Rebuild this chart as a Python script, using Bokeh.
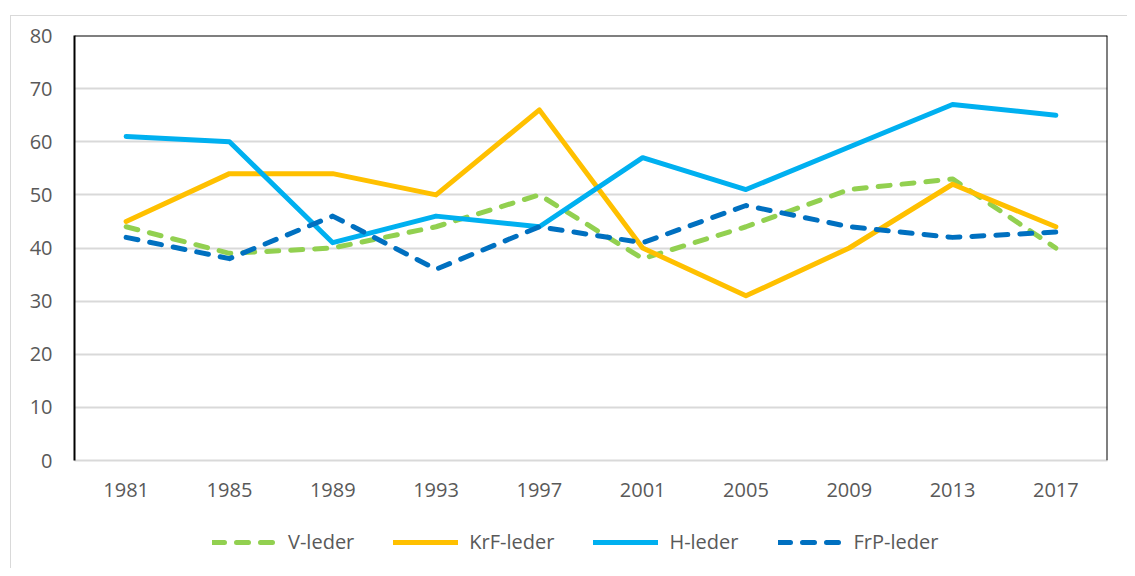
from bokeh.plotting import figure
from bokeh.layouts import column
from bokeh.models import (FactorRange, Range1d, Legend, LegendItem, Span,
                          FixedTicker, InlineStyleSheet)
from bokeh.embed import file_html
from bokeh.resources import INLINE

years = ["1981", "1985", "1989", "1993", "1997", "2001", "2005", "2009", "2013", "2017"]
v_leder = [44, 39, 40, 44, 50, 38, 44, 51, 53, 40]
krf_leder = [45, 54, 54, 50, 66, 40, 31, 40, 52, 44]
h_leder = [61, 60, 41, 46, 44, 57, 51, 59, 67, 65]
frp_leder = [42, 38, 46, 36, 44, 41, 48, 44, 42, 43]
y_ticks = [0, 10, 20, 30, 40, 50, 60, 70, 80]

FONT = "Open Sans"
TXT = "#595959"
BORDER = "#D9D9D9"
LW = 5

p = figure(width=1127, height=520, output_backend="svg", toolbar_location=None,
           x_range=FactorRange(factors=years, range_padding=0),
           y_range=Range1d(0, 80))
p.min_border_left = 74
p.min_border_top = 35
p.min_border_right = 20
p.min_border_bottom = 60
p.outline_line_color = None
p.background_fill_color = "white"
p.border_fill_color = "white"
p.stylesheets = [InlineStyleSheet(css=(
    ":host::after{content:'';position:absolute;left:10px;top:15px;right:0;bottom:0;"
    f"border-left:1.5px solid {BORDER};border-top:1.5px solid {BORDER};pointer-events:none;}}"))]

p.xgrid.grid_line_color = None
p.ygrid.grid_line_color = BORDER
p.ygrid.grid_line_width = 2
p.yaxis.ticker = FixedTicker(ticks=y_ticks)

for ax in (p.xaxis[0], p.yaxis[0]):
    ax.major_tick_line_color = None
    ax.minor_tick_line_color = None
    ax.major_label_text_font = FONT
    ax.major_label_text_font_size = "20px"
    ax.major_label_text_color = TXT
p.yaxis.axis_line_color = "black"
p.yaxis.axis_line_width = 2
p.yaxis.major_label_standoff = 16
p.xaxis.axis_line_color = BORDER
p.xaxis.axis_line_width = 2
p.xaxis.major_label_standoff = 16

p.add_layout(Span(location=80, dimension="width", line_color="black", line_width=2))
p.add_layout(Span(location=10, dimension="height", line_color="black", line_width=2))

series = [("V-leder", v_leder, "#92D050", "12 12"),
          ("KrF-leder", krf_leder, "#FFC000", "solid"),
          ("H-leder", h_leder, "#00B0F0", "solid"),
          ("FrP-leder", frp_leder, "#0070C0", "12 12")]

# legend strip below the chart (its own lines lie outside its tiny y range)
lf = figure(width=1127, height=48, output_backend="svg", toolbar_location=None,
            x_range=FactorRange(factors=years, range_padding=0), y_range=Range1d(0, 1),
            x_axis_location=None, y_axis_location=None)
lf.min_border = 0
lf.grid.grid_line_color = None
lf.outline_line_color = None
lf.background_fill_color = "white"
lf.border_fill_color = "white"
lf.stylesheets = [InlineStyleSheet(css=(
    ":host::after{content:'';position:absolute;left:10px;top:0;right:0;bottom:0;"
    f"border-left:1.5px solid {BORDER};pointer-events:none;}}"))]

items = []
for name, vals, col, dash in series:
    p.line(x=years, y=vals, line_color=col, line_width=LW, line_dash=dash,
           line_cap="round", line_join="round")
    r = lf.line(x=years, y=vals, line_color=col, line_width=LW, line_dash=dash,
                line_cap="round", line_join="round")
    items.append(LegendItem(label=name, renderers=[r]))

legend = Legend(items=items, orientation="horizontal", location=(138, 13),
                glyph_width=65, glyph_height=20, label_standoff=11, spacing=39,
                padding=0, margin=0, border_line_color=None,
                background_fill_alpha=0, label_text_font=FONT,
                label_text_font_size="20px", label_text_color=TXT,
                label_height=20)
lf.add_layout(legend)

layout = column(p, lf, spacing=0)
open("out.html", "w").write(file_html(layout, INLINE))
